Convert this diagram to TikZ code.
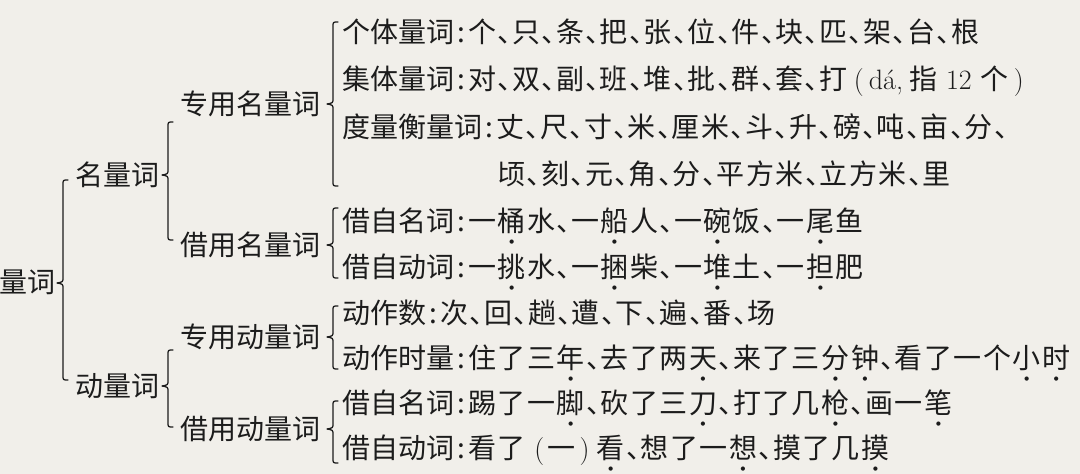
\documentclass[tikz,border=0pt]{standalone}
\usepackage{fontspec}
\newfontfamily\cjk{Noto Sans CJK SC}
\newfontfamily\djv{DejaVu Sans}
\definecolor{bg}{RGB}{241,239,234}
\definecolor{ink}{RGB}{28,28,28}
\newlength\chw \setlength\chw{29.5pt}
\newlength\dnw \setlength\dnw{14.4pt}
\newlength\cnw \setlength\cnw{14pt}
\newlength\pnw \setlength\pnw{20pt}
\newif\ifdotnext
\def\Dm{dotmarker}
\newcommand\emdot{\raisebox{-12pt}{\djv\fontsize{5.5}{5.5}\selectfont ●}}
\def\seqq#1{\ifx\relax#1\else\seqstep#1\expandafter\seqq\fi}
\def\seqstep#1{%
 \ifx\Dm#1\global\dotnexttrue
 \else\ifx、#1\makebox[\dnw][l]{、}%
 \else\ifx:#1\makebox[\cnw][c]{:}%
 \else\ifx(#1\makebox[\pnw][r]{\rmfamily(\hspace{3pt}}%
 \else\ifx)#1\makebox[\pnw][l]{\rmfamily\hspace{3pt})}%
 \else\ifdotnext\global\dotnextfalse\makebox[\chw][l]{\rlap{\makebox[28pt][c]{\emdot}}#1}%
 \else\makebox[\chw][l]{#1}%
 \fi\fi\fi\fi\fi\fi}
\newcommand\brc[4]{\draw[bracestyle] (#1+5,#2) .. controls (#1,#2) .. (#1,#2+5) -- (#1,#3-6) .. controls (#1,#3-1) .. (#1-6,#3) .. controls (#1,#3+1) .. (#1,#3+6) -- (#1,#4-5) .. controls (#1,#4) .. (#1+5,#4);}
\tikzset{
  lab/.style={anchor=base west, inner sep=0pt, text=ink, font=\cjk\fontsize{28}{30}\selectfont},
  row/.style={lab},
  bracestyle/.style={draw=ink, line width=1.3pt, line join=round, line cap=round}
}
\begin{document}
\begin{tikzpicture}[x=1pt,y=-1pt]
\fill[bg] (0,0) rectangle (1080,474);
\useasboundingbox (0,0) rectangle (1080,474);
% left labels
\node[lab] (q)  at (-1,292.6) {量词};
\node[lab] (m)  at (75,185.6) {名量词};
\node[lab] (d)  at (75,396.6) {动量词};
\node[lab] (mz) at (180,114.6) {专用名量词};
\node[lab] (mj) at (180,255.6) {借用名量词};
\node[lab] (dz) at (180,347.6) {专用动量词};
\node[lab] (dj) at (180,439.6) {借用动量词};
% braces
\brc{63}{180}{283}{380}
\brc{168}{122}{175}{240}
\brc{333}{22}{104}{186}
\brc{333}{208}{245}{278}
\brc{168}{350}{386}{427}
\brc{333}{306}{337}{369}
\brc{333}{401}{429}{463}
% rows
\node[row] (r1) at (342,42.6) {个体量词\seqq :个、只、条、把、张、位、件、块、匹、架、台、根\relax};
\node[row] (r2) at (342,89.6) {集体量词\seqq :对、双、副、班、堆、批、群、套、打\relax\makebox[20pt][c]{\rmfamily(}{\rmfamily dá,}\hspace{6pt}指\hspace{9pt}{\rmfamily 12}\hspace{9pt}个\makebox[20pt][c]{\rmfamily)}};
\node[row] (r3) at (342,137.6) {度量衡量词\seqq :丈、尺、寸、米、厘米、斗、升、磅、吨、亩、分、\relax};
\node[row] (r4) at (497,184.6) {\seqq 顷、刻、元、角、分、平方米、立方米、里\relax};
\node[row] (r5) at (342,231.6) {借自名词\seqq :一\Dm 桶水、一\Dm 船人、一\Dm 碗饭、一\Dm 尾鱼\relax};
\node[row] (r6) at (342,277.6) {借自动词\seqq :一\Dm 挑水、一\Dm 捆柴、一\Dm 堆土、一\Dm 担肥\relax};
\node[row] (r7) at (342,323.6) {动作数\seqq :次、回、趟、遭、下、遍、番、场\relax};
\node[row] (r8) at (342,368.6) {动作时量\seqq :住了三\Dm 年、去了两\Dm 天、来了三\Dm 分\Dm 钟、看了一个\Dm 小\Dm 时\relax};
\node[row] (r9) at (342,413.6) {借自名词\seqq :踢了一\Dm 脚、砍了三\Dm 刀、打了几\Dm 枪、画一\Dm 笔\relax};
\node[row] (r10) at (342,458.6) {借自动词\seqq :看了(一)\Dm 看、想了一\Dm 想、摸了几\Dm 摸\relax};
\end{tikzpicture}
\end{document}
